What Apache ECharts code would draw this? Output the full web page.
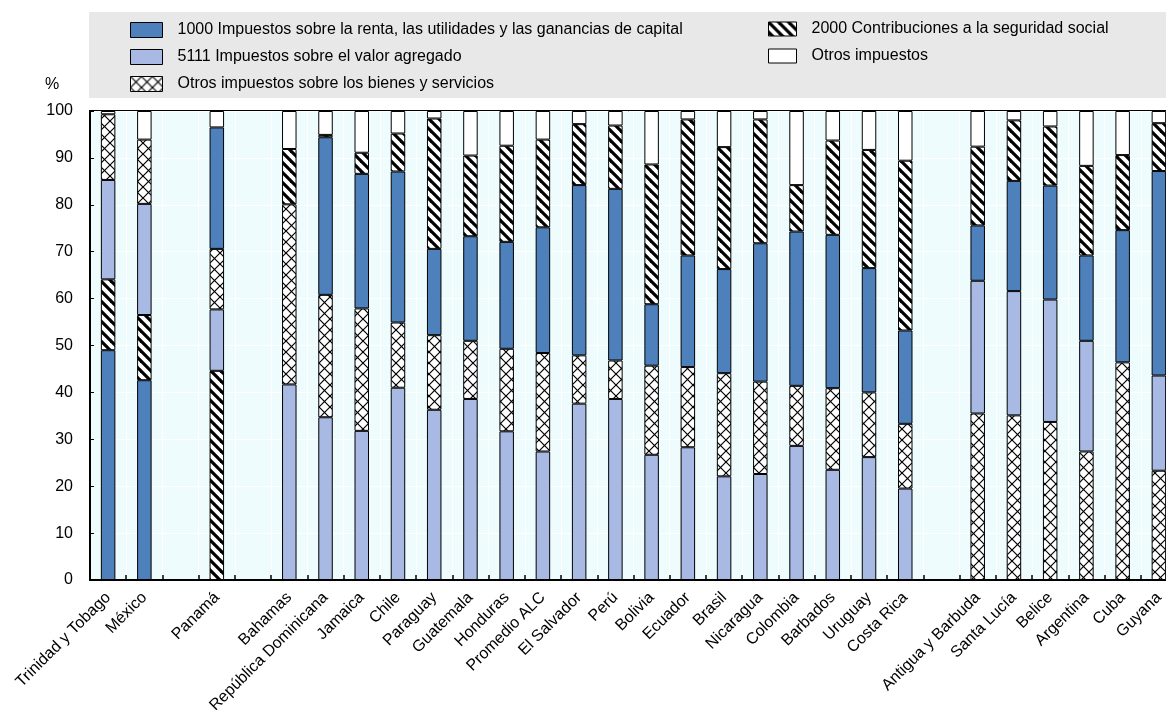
<!DOCTYPE html>
<html>
<head>
<meta charset="utf-8">
<script src="https://cdn.jsdelivr.net/npm/echarts@6/dist/echarts.min.js"></script>
<style>
html,body{margin:0;padding:0;background:#fff;}
#chart{width:1166px;height:710px;}
</style>
</head>
<body>
<div id="chart"></div>
<script>
// ---------- DATA ----------
const categories = ['Trinidad y Tobago','México','','Panamá','','Bahamas','República Dominicana','Jamaica','Chile','Paraguay','Guatemala','Honduras','Promedio ALC','El Salvador','Perú','Bolivia','Ecuador','Brasil','Nicaragua','Colombia','Barbados','Uruguay','Costa Rica','','Antigua y Barbuda','Santa Lucía','Belice','Argentina','Cuba','Guyana'];

// 1000 Impuestos sobre la renta, las utilidades y las ganancias de capital
const renta = [49.0,42.6,null,25.9,null,0,33.6,28.7,32.2,18.4,22.3,22.8,26.8,36.3,36.6,13.1,23.8,22.2,29.5,32.9,32.7,26.5,19.9,null,11.8,23.5,24.3,18.2,28.2,43.6];
// 2000 Contribuciones a la seguridad social
const seguridad = [15.1,13.9,null,44.6,null,11.8,0.5,4.5,8.1,27.8,17.2,20.5,18.7,13.0,13.5,29.8,29.0,26.0,26.4,9.9,20.1,25.2,36.2,null,16.8,12.9,12.6,19.1,16.0,10.2];
// 5111 Impuestos sobre el valor agregado
const iva = [21.2,23.7,null,13.1,null,41.7,34.7,31.8,41.0,36.3,38.6,31.7,27.4,37.6,38.6,26.7,28.3,22.1,22.6,28.6,23.5,26.2,19.5,null,28.3,26.5,26.1,23.6,0,20.3];
// Otros impuestos sobre los bienes y servicios
const bienes = [14.0,13.7,null,12.9,null,38.4,26.1,26.1,13.9,15.9,12.4,17.6,21.0,10.3,8.2,19.0,17.1,22.0,19.7,12.8,17.4,13.8,13.8,null,35.5,35.1,33.7,27.4,46.4,23.3];
// Otros impuestos
const otros = [0.7,6.1,null,3.5,null,8.1,5.1,8.9,4.8,1.6,9.5,7.4,6.1,2.8,3.1,11.4,1.8,7.7,1.8,15.8,6.3,8.3,10.6,null,7.6,2.0,3.3,11.7,9.4,2.6];

// stacking-order group of each bar (A: renta at bottom, B: seguridad at bottom, C: IVA at bottom, D: bienes at bottom)
const stackGroup = ['A','A',null,'B',null,'C','C','C','C','C','C','C','C','C','C','C','C','C','C','C','C','C','C',null,'D','D','D','D','D','D'];

const yTicks = [0,10,20,30,40,50,60,70,80,90,100];

const names = {
  renta: '1000 Impuestos sobre la renta, las utilidades y las ganancias de capital',
  iva: '5111 Impuestos sobre el valor agregado',
  bienes: 'Otros impuestos sobre los bienes y servicios',
  seguridad: '2000 Contribuciones a la seguridad social',
  otros: 'Otros impuestos'
};

// ---------- STYLES ----------
function hatchPattern(){
  const s = 10;
  const c = document.createElement('canvas'); c.width = s; c.height = s;
  const g = c.getContext('2d');
  g.fillStyle = '#fff'; g.fillRect(0,0,s,s);
  g.strokeStyle = '#000'; g.lineWidth = 3.2;
  for (let k=-1;k<=1;k++){ g.beginPath(); g.moveTo(-2, k*s-2); g.lineTo(s+2, s+2+k*s); g.stroke(); }
  return c;
}
function crossPattern(){
  const s = 11;
  const c = document.createElement('canvas'); c.width = s; c.height = s;
  const g = c.getContext('2d');
  g.fillStyle = '#fff'; g.fillRect(0,0,s,s);
  g.strokeStyle = '#000'; g.lineWidth = 1.2;
  for (let k=-1;k<=1;k++){
    g.beginPath(); g.moveTo(-2, k*s-2); g.lineTo(s+2, s+2+k*s); g.stroke();
    g.beginPath(); g.moveTo(-2, s+2+k*s); g.lineTo(s+2, k*s-2); g.stroke();
  }
  return c;
}
const fills = {
  renta: '#4e80bc',
  iva: '#a8b9e3',
  bienes: {image: crossPattern(), repeat: 'repeat'},
  seguridad: {image: hatchPattern(), repeat: 'repeat'},
  otros: '#ffffff'
};
const values = {renta, iva, bienes, seguridad, otros};

// global stacking sequence; each group's order is a subsequence of it
const sequence = [
  ['renta', ['A']],
  ['seguridad', ['A','B']],
  ['bienes', ['D']],
  ['iva', ['A','B','C','D']],
  ['bienes', ['A','B','C']],
  ['renta', ['B','C','D']],
  ['seguridad', ['C','D']],
  ['otros', ['A','B','C','D']]
];

const FONT = '"Liberation Sans", Arial, sans-serif';

const series = sequence.map(([key, groups]) => ({
  type: 'bar',
  name: names[key],
  stack: 'total',
  barWidth: 14.5,
  itemStyle: {color: fills[key], borderColor: '#000', borderWidth: 1},
  emphasis: {disabled: true},
  data: values[key].map((v,i) => (stackGroup[i] && groups.includes(stackGroup[i]) && v) ? v : '-')
}));

const chart = echarts.init(document.getElementById('chart'));
chart.setOption({
  animation: false,
  textStyle: {fontFamily: FONT},
  graphic: [
    {type: 'rect', z: -10, shape: {x: 89, y: 12, width: 1100, height: 86}, style: {fill: '#e8e8e8'}},
    {type: 'text', x: 52, y: 85, style: {text: '%', font: '16px ' + FONT, fill: '#000', align: 'center', verticalAlign: 'middle'}}
  ],
  legend: [
    {
      left: 130, top: 22, orient: 'vertical', padding: 0, itemGap: 11,
      itemWidth: 32, itemHeight: 15, selectedMode: false, icon: 'rect',
      itemStyle: {borderColor: '#000', borderWidth: 1},
      textStyle: {fontSize: 16, color: '#000', fontFamily: FONT, padding: [0,0,0,10]},
      data: [names.renta, names.iva, names.bienes]
    },
    {
      left: 768, top: 21, orient: 'vertical', padding: 0, itemGap: 11,
      itemWidth: 28, itemHeight: 14, selectedMode: false, icon: 'rect',
      itemStyle: {borderColor: '#000', borderWidth: 1},
      textStyle: {fontSize: 16, color: '#000', fontFamily: FONT, padding: [0,0,0,10]},
      data: [names.seguridad, names.otros]
    }
  ],
  grid: {left: 90, top: 111, width: 1087, bottom: 130, outerBoundsMode: 'none', containLabel: false, show: true, backgroundColor: '#eefcfd', borderColor: '#000', borderWidth: 2},
  xAxis: {
    type: 'category', data: categories,
    axisLine: {lineStyle: {color: '#000', width: 2}},
    axisTick: {show: true, inside: true, length: 5, lineStyle: {color: '#000', width: 1.5}},
    splitLine: {show: true, lineStyle: {color: '#ffffff', width: 1}},
    axisLabel: {interval: 0, rotate: 45, fontSize: 16, color: '#000', margin: 15, fontFamily: FONT}
  },
  yAxis: {
    type: 'value', min: yTicks[0], max: yTicks[yTicks.length-1], interval: yTicks[1]-yTicks[0],
    axisLine: {show: true, lineStyle: {color: '#000', width: 2}},
    axisTick: {show: true, inside: true, length: 4, lineStyle: {color: '#000'}},
    splitLine: {show: true, lineStyle: {color: '#ffffff', width: 1}},
    axisLabel: {fontSize: 16, color: '#000', margin: 17, fontFamily: FONT}
  },
  series: series
});
</script>
</body>
</html>
